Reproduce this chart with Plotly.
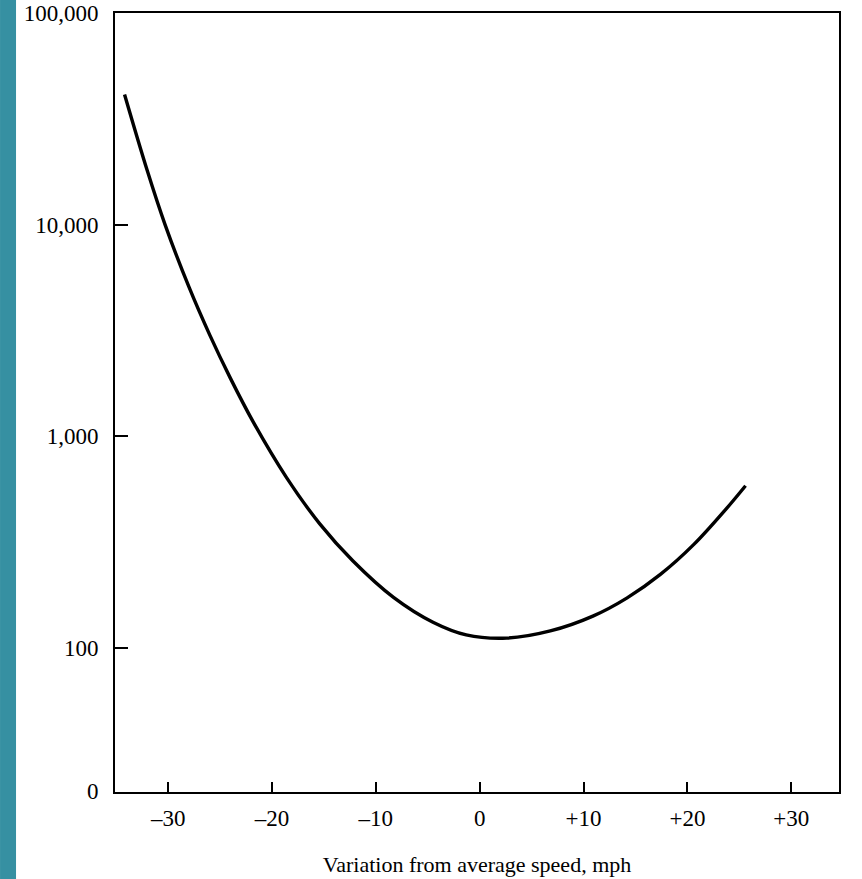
import plotly.graph_objects as go

# Data
speed_variation = [-34.2, -32.0, -30.3, -28.0, -26.0, -24.0, -21.8, -18.6, -15.4, -12.2,
                   -8.3, -4.5, -1.3, 2.6, 6.8, 10.9, 14.2, 17.4, 20.6, 23.8, 25.6]
accident_rate = [41200, 17900, 10000, 5070, 3010, 1875, 1165, 637, 385, 257,
                 173, 132, 115, 111, 120, 141, 172, 222, 307, 457, 583]

x_tick_vals = [-30, -20, -10, 0, 10, 20, 30]
x_tick_text = ["–30", "–20", "–10", "0", "+10", "+20", "+30"]
y_tick_vals = [21, 100, 1000, 10000, 100000]
y_tick_text = ["0", "100", "1,000", "10,000", "100,000"]

FONT = "Liberation Serif"

fig = go.Figure()
fig.add_trace(go.Scatter(
    x=speed_variation, y=accident_rate, mode="lines",
    line=dict(color="black", width=3.4, shape="spline", smoothing=1.0),
    showlegend=False, hoverinfo="skip",
))

fig.update_layout(
    width=862, height=879,
    margin=dict(l=115, r=23, t=13, b=87),
    paper_bgcolor="white", plot_bgcolor="white",
    font=dict(family=FONT, size=23, color="black"),
    xaxis=dict(
        range=[-35.12, 34.6], showgrid=False, zeroline=False, automargin=False,
        tickmode="array", tickvals=x_tick_vals, ticktext=x_tick_text,
        ticks="inside", ticklen=10, tickwidth=2, tickcolor="black",
        showline=True, linecolor="black", linewidth=2, mirror=True,
        ticklabelstandoff=4,
        title=dict(text="Variation from average speed, mph", standoff=27,
                   font=dict(family=FONT, size=22)),
    ),
    yaxis=dict(
        type="log", range=[1.318, 5.0], showgrid=False, zeroline=False,
        automargin=False,
        tickmode="array", tickvals=y_tick_vals, ticktext=y_tick_text,
        ticks="inside", ticklen=13, tickwidth=2, tickcolor="black",
        showline=True, linecolor="black", linewidth=2, mirror=True,
        ticklabelstandoff=10,
    ),
    shapes=[dict(type="rect", xref="paper", yref="paper",
                 x0=-0.1588, x1=-0.1367, y0=-0.2, y1=1.05,
                 fillcolor="#3690A2", line=dict(width=0), layer="below")],
)

fig.write_html("out.html",
               config={"displayModeBar": False},
               post_script="document.body.style.margin='0';document.body.style.overflow='hidden';")
